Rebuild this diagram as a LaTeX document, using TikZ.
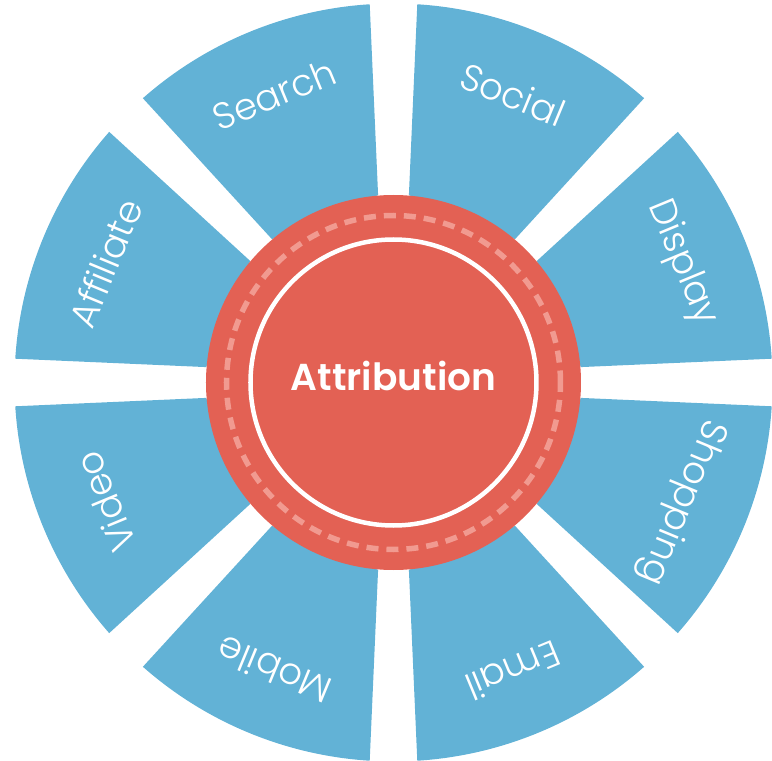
\documentclass[tikz,border=0pt]{standalone}
\usepackage{fontspec}
\setmainfont{Poppins}
\newfontfamily\segfont{Poppins Light}
\newfontfamily\hubfont{Poppins SemiBold}
\definecolor{wheelblue}{HTML}{62B2D6}
\definecolor{hubred}{HTML}{E36154}
\definecolor{dashpink}{HTML}{F19A90}

\begin{document}
\begin{tikzpicture}[x=1pt,y=1pt,
    seg/.style={fill=wheelblue},
    seglabel/.style={text=white,font=\segfont\fontsize{37}{37}\selectfont,anchor=center,inner sep=0}]
  \useasboundingbox (-393.5,-378.5) rectangle (378.5,382.5);
  \foreach \a/\t in {112.5/Search,67.5/Social,22.5/Display,-22.5/Shopping,
      -67.5/Email,-112.5/Mobile,-157.5/Video,157.5/Affiliate}{
    \fill[seg] (\a-17.8:188) -- (\a-18.9:379)
      arc[start angle=\a-18.9,end angle=\a+18.9,radius=379] -- (\a+17.8:188) -- cycle;
    \node[seglabel,rotate=\a-90] (lbl-\t) at (\a:312) {\t};
  }
  \node[circle,fill=hubred,minimum size=375,inner sep=0] (hub) at (0,0) {};
  \draw[dashpink,line width=5.5,dash pattern=on 12 off 8] (hub.center) circle[radius=167];
  \draw[white,line width=4.5] (hub.center) circle[radius=143];
  \node[text=white,font=\hubfont\fontsize{37.5}{37.5}\selectfont,anchor=base,inner sep=0] (attr) at (0,-7.5) {Attribution};
\end{tikzpicture}
\end{document}
